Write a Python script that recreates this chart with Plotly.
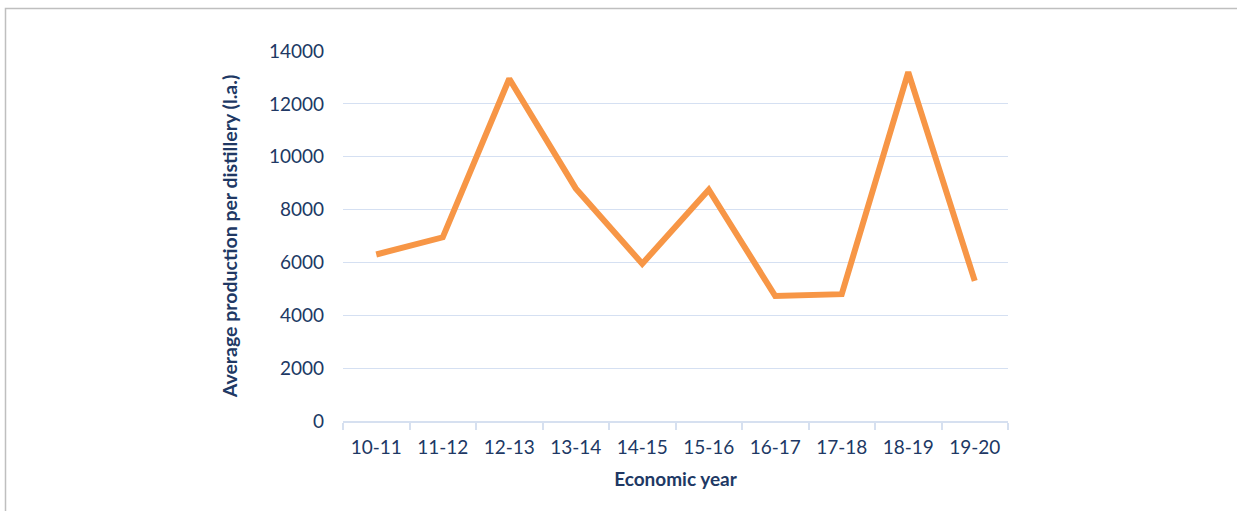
import plotly.graph_objects as go

years = ["10-11", "11-12", "12-13", "13-14", "14-15", "15-16", "16-17", "17-18", "18-19", "19-20"]
production = [6300, 6950, 12950, 8800, 5950, 8750, 4730, 4800, 13200, 5300]
y_ticks = [0, 2000, 4000, 6000, 8000, 10000, 12000, 14000]

text_color = "#203864"
font_family = "Lato, 'Open Sans', 'Liberation Sans', sans-serif"

fig = go.Figure()
fig.add_trace(go.Scatter(
    x=years, y=production, mode="lines",
    line=dict(color="#F79646", width=6),
    showlegend=False,
))

W, H = 1237, 511
L, T = 343, 51
R = W - 1008
B = H - 421
pw, ph = W - L - R, H - T - B

fig.update_layout(
    width=W, height=H,
    margin=dict(l=L, r=R, t=T, b=B),
    paper_bgcolor="white", plot_bgcolor="white",
    font=dict(family=font_family, color=text_color, size=19),
    xaxis=dict(
        type="category",
        range=[-0.5, len(years) - 0.5],
        tickson="boundaries",
        ticks="outside", ticklen=7, tickcolor="#D6E0F0", tickwidth=2,
        showline=True, linecolor="#D6E0F0", linewidth=2,
        showgrid=False,
        ticklabelstandoff=8,
        tickfont=dict(size=19, color=text_color),
        title=dict(text="<b>Economic year</b>", font=dict(size=19, color=text_color), standoff=16),
    ),
    yaxis=dict(
        range=[0, 14000],
        tickvals=y_ticks,
        ticktext=[str(v) for v in y_ticks],
        showgrid=True, gridcolor="#D5E0F2", gridwidth=1.3,
        zeroline=False, showline=False,
        ticks="", ticklabelstandoff=18,
        tickfont=dict(size=19, color=text_color),
        title=dict(text="<b>Average production per distillery (l.a.)</b>", font=dict(size=19.5, color=text_color), standoff=26),
    ),
    shapes=[dict(
        type="rect", xref="paper", yref="paper",
        x0=(5.5 - L) / pw, x1=(W + 5 - L) / pw,
        y0=(H - B - (H + 5)) / ph, y1=(H - B - 8.5) / ph,
        line=dict(color="#BFBFBF", width=1.5), fillcolor="rgba(0,0,0,0)",
        layer="below",
    )],
)

fig.write_html(
    "out.html",
    config={"displayModeBar": False},
    post_script="document.body.style.margin='0';document.body.style.overflow='hidden';",
)
